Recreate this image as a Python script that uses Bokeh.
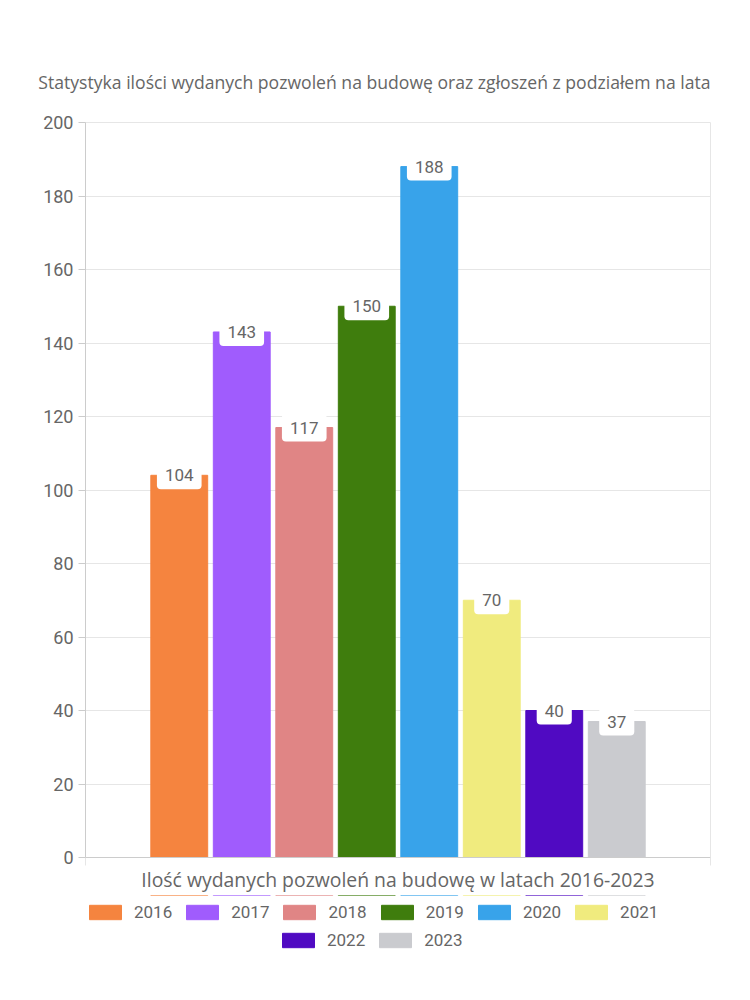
from bokeh.plotting import figure
from bokeh.layouts import column
from bokeh.models import (ColumnDataSource, Range1d, FixedTicker, Legend, LegendItem)
from bokeh.core.properties import value
from bokeh.embed import file_html
from bokeh.resources import INLINE

years = ["2016", "2017", "2018", "2019", "2020", "2021", "2022", "2023"]
counts = [104, 143, 117, 150, 188, 70, 40, 37]
colors = ["#f5843f", "#a05cfd", "#e08585", "#3f7d0d", "#38a3ea", "#f0eb7e", "#500ac2", "#cacbcf"]
title_text = "Statystyka ilości wydanych pozwoleń na budowę oraz zgłoszeń z podziałem na lata"
category_label = "Ilość wydanych pozwoleń na budowę w latach 2016-2023"
y_ticks = [0, 20, 40, 60, 80, 100, 120, 140, 160, 180, 200]

FONT = "Roboto"
TFONT = "Open Sans"
GRAY = "#666666"

idx = list(range(len(years)))
src = ColumnDataSource(dict(x=idx, top=counts, color=colors, year=years,
                            label=[str(c) for c in counts]))

p = figure(width=750, height=895, output_backend="svg", toolbar_location=None,
           x_range=Range1d(-1.5, len(years) + 0.5), y_range=Range1d(0, 200),
           min_border_left=85, min_border_right=40, min_border_top=122,
           min_border_bottom=37)

p.title.text = title_text
p.title.align = "right"
p.title.text_font = TFONT
p.title.text_font_style = "normal"
p.title.text_font_size = "17.6px"
p.title.text_color = GRAY
p.title.standoff = 58

bars = p.vbar(x="x", top="top", width=0.91, bottom=0, color="color", source=src)

p.text(x="x", y="top", text="label", source=src, text_align="center",
       text_baseline="middle", text_font=value(FONT), text_font_size="17px",
       text_color=GRAY, background_fill_color="white", padding=8,
       border_radius=4)

p.outline_line_color = "#e6e6e6"
p.xgrid.grid_line_color = None
p.ygrid.grid_line_color = "#e6e6e6"
p.yaxis.ticker = FixedTicker(ticks=y_ticks)
p.yaxis.axis_line_color = "#cccccc"
p.yaxis.major_tick_line_color = "#cccccc"
p.yaxis.major_tick_out = 7
p.yaxis.major_tick_in = 0
p.yaxis.minor_tick_line_color = None
p.yaxis.major_label_text_font = FONT
p.yaxis.major_label_text_font_size = "18px"
p.yaxis.major_label_text_color = GRAY
p.yaxis.major_label_standoff = 5

p.xaxis.ticker = FixedTicker(ticks=[-1.5, len(years) + 0.5])
p.xaxis.major_label_overrides = {-1.5: "", len(years) + 0.5: ""}
p.xaxis.major_label_text_font_size = "1px"
p.xaxis.axis_line_color = "#cccccc"
p.xaxis.major_tick_line_color = "#e6e6e6"
p.xaxis.major_tick_out = 8
p.xaxis.major_tick_in = 0
p.xaxis.minor_tick_line_color = None
p.xaxis.axis_label = category_label
p.xaxis.axis_label_text_font = TFONT
p.xaxis.axis_label_text_font_style = "normal"
p.xaxis.axis_label_text_font_size = "19.4px"
p.xaxis.axis_label_text_color = GRAY
p.xaxis.axis_label_standoff = 0

# legend strip below the chart
p2 = figure(width=750, height=105, output_backend="svg", toolbar_location=None,
            x_axis_location=None, y_axis_location=None,
            x_range=Range1d(-1.5, len(years) + 0.5), y_range=Range1d(-20, -10),
            min_border_left=0, min_border_right=0, min_border_top=0,
            min_border_bottom=0)
p2.grid.visible = False
p2.outline_line_color = None
lbars = p2.vbar(x="x", top="top", width=0.91, bottom=0, color="color", source=src)

items1 = [LegendItem(label=years[i], renderers=[lbars], index=i) for i in range(6)]
items2 = [LegendItem(label=years[i], renderers=[lbars], index=i) for i in range(6, 8)]
for items, loc in ((items1, (0, 78)), (items2, (193, 50))):
    lg = Legend(items=items, orientation="horizontal", location=loc,
                glyph_width=40, glyph_height=18, label_standoff=9, spacing=10,
                label_text_font=FONT, label_text_font_size="17px",
                label_text_color=GRAY, border_line_color=None,
                background_fill_alpha=0, padding=0, margin=0)
    p2.add_layout(lg, "center")

layout = column(p, p2, spacing=0)
open("out.html", "w").write(file_html(layout, INLINE))
